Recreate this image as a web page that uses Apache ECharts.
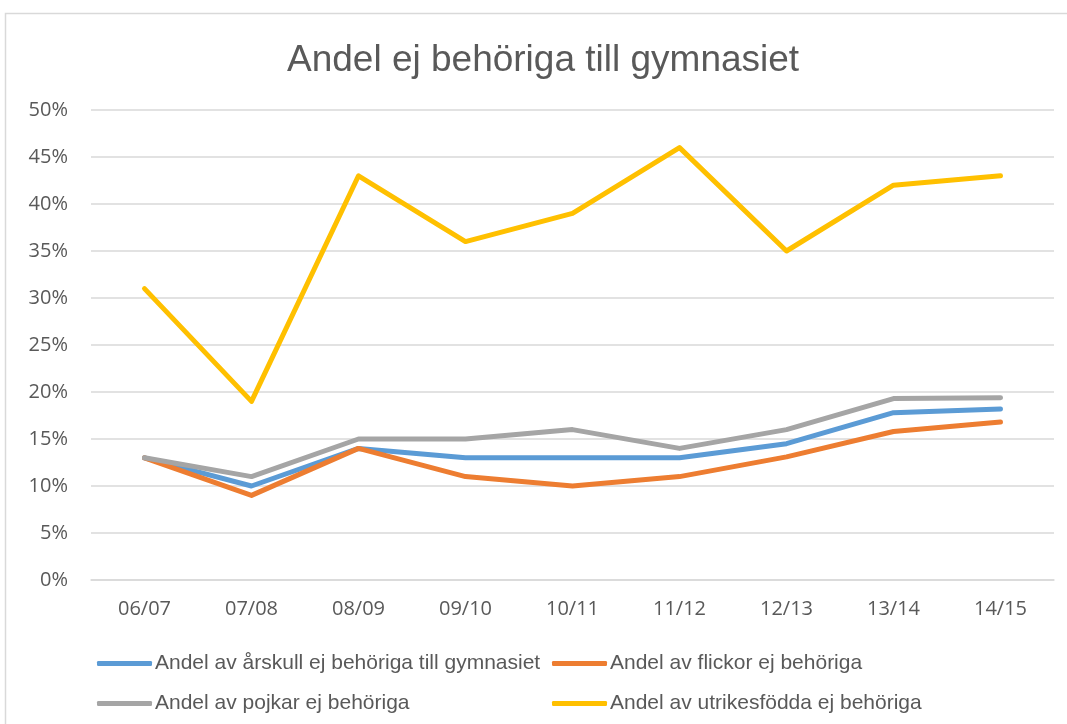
<!DOCTYPE html>
<html>
<head>
<meta charset="utf-8">
<script src="https://cdn.jsdelivr.net/npm/echarts@6/dist/echarts.min.js"></script>
<style>
  html, body { margin: 0; padding: 0; background: #fff; }
  #chart-container { width: 1067px; height: 724px; }
</style>
</head>
<body>
<div id="chart-container"></div>
<script>
const years = ['06/07', '07/08', '08/09', '09/10', '10/11', '11/12', '12/13', '13/14', '14/15'];
const seriesNames = [
    'Andel av årskull ej behöriga till gymnasiet',
    'Andel av flickor ej behöriga',
    'Andel av pojkar ej behöriga',
    'Andel av utrikesfödda ej behöriga'
];
// values in percent
const allPupils = [13, 10, 14, 13, 13, 13, 14.5, 17.8, 18.2];
const girls = [13, 9, 14, 11, 10, 11, 13.1, 15.8, 16.8];
const boys = [13, 11, 15, 15, 16, 14, 16, 19.3, 19.4];
const foreignBorn = [31, 19, 43, 36, 39, 46, 35, 42, 43];
const colors = ['#5B9BD5', '#ED7D31', '#A5A5A5', '#FFC000'];

const textColor = '#595959';
const linesColor = '#d9d9d9';

const chartContainer = document.getElementById('chart-container');
const myChart = echarts.init(chartContainer);

const makeSeries = (name, data, color) => ({
    name: name,
    type: 'line',
    showSymbol: false,
    symbol: 'none',
    data: data,
    itemStyle: { color: color },
    lineStyle: { color: color, width: 5, cap: 'round', join: 'round' }
});

const legendBase = {
    orient: 'vertical',
    top: 648,
    itemWidth: 55,
    itemHeight: 5,
    itemGap: 19,
    icon: 'roundRect',
    textStyle: {
        fontFamily: 'Liberation Sans',
        fontSize: 21,
        color: textColor,
        padding: [0, 0, 0, -2]
    }
};

const options = {
    backgroundColor: '#ffffff',
    animation: false,
    title: {
        text: 'Andel ej behöriga till gymnasiet',
        left: 282,
        top: 37,
        textStyle: {
            fontFamily: 'Liberation Sans',
            fontSize: 37,
            fontWeight: 'normal',
            color: textColor
        }
    },
    graphic: [{
        type: 'rect',
        shape: { x: 5.5, y: 13.5, width: 1200, height: 800 },
        style: { fill: 'none', stroke: linesColor, lineWidth: 1.5 },
        silent: true
    }],
    legend: [
        Object.assign({}, legendBase, { left: 92, data: [seriesNames[0], seriesNames[2]] }),
        Object.assign({}, legendBase, { left: 547, data: [seriesNames[1], seriesNames[3]] })
    ],
    grid: {
        left: 91,
        right: 13,
        top: 110,
        bottom: 144
    },
    xAxis: {
        type: 'category',
        data: years,
        boundaryGap: true,
        axisLine: { lineStyle: { color: linesColor, width: 1.5 } },
        axisTick: { show: false },
        axisLabel: {
            fontFamily: 'Open Sans',
            fontSize: 20,
            color: textColor,
            margin: 19
        }
    },
    yAxis: {
        type: 'value',
        min: 0,
        max: 50,
        interval: 5,
        axisLine: { show: false },
        axisTick: { show: false },
        axisLabel: {
            formatter: '{value}%',
            fontFamily: 'Open Sans',
            fontSize: 20,
            color: textColor,
            margin: 23
        },
        splitLine: {
            show: true,
            lineStyle: { color: linesColor, width: 1.5 }
        }
    },
    series: [
        makeSeries(seriesNames[0], allPupils, colors[0]),
        makeSeries(seriesNames[1], girls, colors[1]),
        makeSeries(seriesNames[2], boys, colors[2]),
        makeSeries(seriesNames[3], foreignBorn, colors[3])
    ]
};

myChart.setOption(options);
</script>
</body>
</html>
